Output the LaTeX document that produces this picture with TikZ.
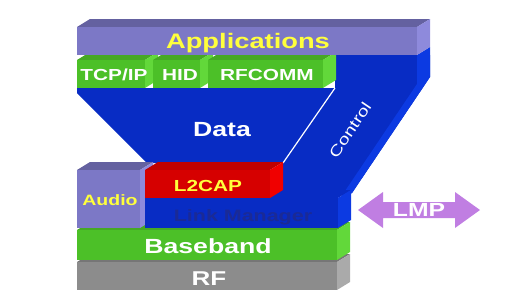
\documentclass[tikz,border=0pt]{standalone}
\usepackage{fontspec}
\newfontfamily\stackfont{Liberation Sans}[FakeStretch=1.3]
\definecolor{appfront}{RGB}{124,120,198}
\definecolor{apptop}{RGB}{100,97,160}
\definecolor{appside}{RGB}{142,138,220}
\definecolor{grnfront}{RGB}{76,192,40}
\definecolor{grntop}{RGB}{70,168,35}
\definecolor{grnside}{RGB}{98,216,58}
\definecolor{blufront}{RGB}{8,44,196}
\definecolor{blutop}{RGB}{8,44,196}
\definecolor{bluside}{RGB}{12,58,226}
\definecolor{redfront}{RGB}{214,0,0}
\definecolor{redtop}{RGB}{190,0,0}
\definecolor{redside}{RGB}{240,0,0}
\definecolor{gryfront}{RGB}{140,140,140}
\definecolor{grytop}{RGB}{118,118,118}
\definecolor{gryside}{RGB}{170,170,170}
\definecolor{lmpviolet}{RGB}{192,126,226}
\definecolor{lblyellow}{RGB}{255,255,60}
\definecolor{lmtext}{RGB}{26,42,150}
% front rectangle (x1,y1)-(x2,y2) with top and right faces, colour prefix #5
\newcommand{\stackslab}[5]{%
  \fill[#5top] (#1,#2) -- (#1+13,#2-8) -- (#3+13,#2-8) -- (#3,#2) -- cycle;
  \fill[#5side] (#3,#2) -- (#3+13,#2-8) -- (#3+13,#4-8) -- (#3,#4) -- cycle;
  \fill[#5front] (#1,#2) rectangle (#3,#4);}
\begin{document}
\begin{tikzpicture}[x=1pt,y=-1pt,
    lbl/.style={inner sep=0pt, anchor=base, text=white,
      font=\stackfont\bfseries\fontsize{#1}{#1}\selectfont},
    lbl/.default=16]
    \useasboundingbox (0,0) rectangle (512,300);
    % control band and data funnel
    \fill[blufront] (335,55) -- (430,55) -- (430,77) -- (352,193) -- (283,193) -- (283,163) -- (335,88) -- cycle;
    \fill[bluside] (417,55) -- (430,47) -- (430,77) -- (352,193) -- (339,200) -- (417,84) -- cycle;
    \fill[blufront] (77,88) -- (335,88) -- (283,163) -- (147,163) -- (77,93) -- cycle;
    \draw[white, line width=1.2pt] (335,88) -- (283,163);
    % protocols on top
    \stackslab{77}{60}{145}{88}{grn}
    \stackslab{153}{60}{200}{88}{grn}
    \stackslab{208}{60}{323}{88}{grn}
    \stackslab{77}{27}{417}{55}{app}
    % lower layers
    \stackslab{77}{262}{337}{290}{gry}
    \stackslab{77}{230}{337}{260}{grn}
    \stackslab{77}{170}{140}{228}{app}
    \stackslab{145}{198}{338}{228}{blu}
    \stackslab{145}{170}{270}{198}{red}
    % labels
    \node[lbl=21, text=lblyellow] (app) at (248,48) {Applications};
    \node[lbl] (tcpip) at (114,80) {TCP/IP};
    \node[lbl] (hid) at (180,80) {HID};
    \node[lbl] (rfcomm) at (267,80) {RFCOMM};
    \node[lbl=20.5] (data) at (222,136.5) {Data};
    \node[inner sep=0pt, text=white, rotate=56,
      font=\stackfont\fontsize{15}{15}\selectfont] (control) at (350,130) {Control};
    \node[lbl, text=lblyellow] (lcap) at (208,191.5) {L2CAP};
    \node[lbl=15, text=lblyellow] (audio) at (110,205) {Audio};
    \node[lbl=16.5, text=lmtext] (linkmgr) at (243,221.5) {Link Manager};
    \node[lbl=20.5] (baseband) at (208,253.5) {Baseband};
    \node[lbl=20] (rf) at (209,285) {RF};
    % LMP arrow
    \fill[lmpviolet] (358,210) -- (383,192) -- (383,202) -- (455,202) -- (455,192) -- (480,210)
      -- (455,228) -- (455,218) -- (383,218) -- (383,228) -- cycle;
    \node[lbl=19] (lmp) at (419,216.5) {LMP};
\end{tikzpicture}
\end{document}
